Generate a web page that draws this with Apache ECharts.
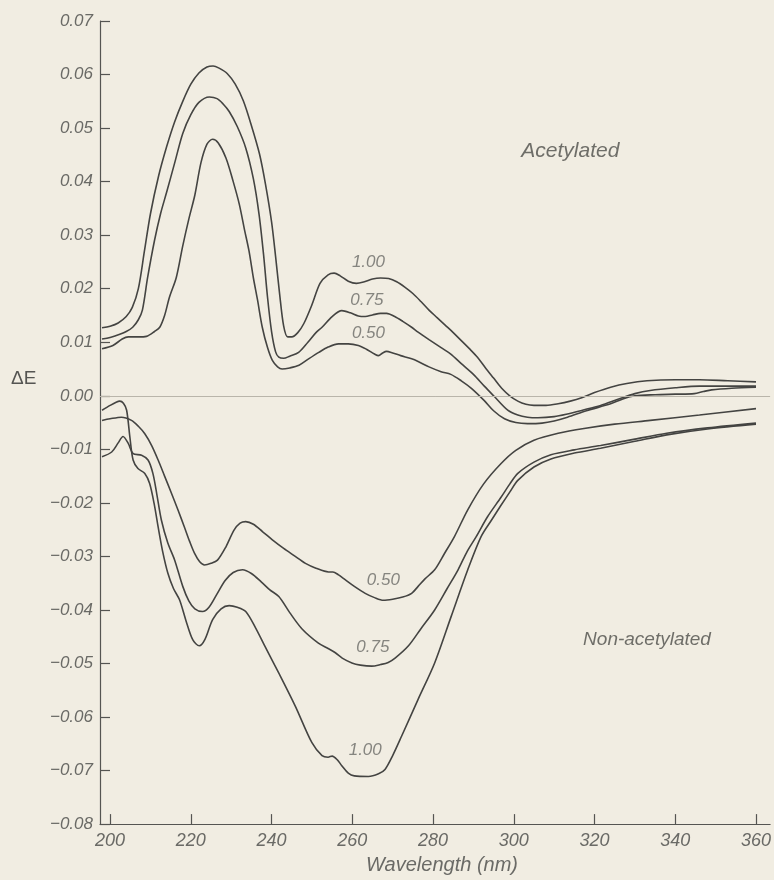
<!DOCTYPE html>
<html>
<head>
<meta charset="utf-8">
<script src="https://cdn.jsdelivr.net/npm/echarts@6/dist/echarts.min.js"></script>
<style>
html,body{margin:0;padding:0;background:#f1ede2;overflow:hidden;}
#chart{width:774px;height:880px;}
</style>
</head>
<body>
<div id="chart"></div>
<script>
// Tick labels
const xTicks = [200, 220, 240, 260, 280, 300, 320, 340, 360];
const yTicks = [-0.08, -0.07, -0.06, -0.05, -0.04, -0.03, -0.02, -0.01, 0, 0.01, 0.02, 0.03, 0.04, 0.05, 0.06, 0.07];

// Acetylated, 1.00
const acet100 = [
[198,0.0127],[200,0.0130],[202,0.0136],[204,0.0148],[205.5,0.0165],[207,0.0200],[208.5,0.0270],[210,0.0340],
[212,0.0410],[214,0.0465],[216,0.0512],[218,0.0550],[220,0.0582],[222,0.0603],[224,0.0614],[225.5,0.0616],
[227,0.0612],[229,0.0602],[231,0.0582],[233,0.0551],[235,0.0505],[237,0.0452],[238.5,0.0395],[240,0.0325],
[241,0.0260],[242,0.0190],[243,0.0130],[244,0.0110],[245,0.0110],[246.5,0.0118],[248,0.0135],[250,0.0170],
[252,0.0210],[254,0.0226],[255.5,0.0229],[257,0.0224],[259,0.0214],[261,0.0210],[263,0.0213],[265,0.0218],
[267,0.0220],[269,0.0219],[271,0.0213],[273,0.0203],[275,0.0191],[277,0.0176],[279,0.0160],[281,0.0146],
[283,0.0132],[285,0.0118],[287,0.0103],[289,0.0088],[291,0.0072],[293,0.0052],[295,0.0033],[297,0.0014],
[299,0.0000],[301,-0.0010],[303,-0.0016],[305,-0.0018],[308,-0.0018],[311,-0.0015],[314,-0.0010],[317,-0.0003],
[320,0.0006],[324,0.0016],[328,0.0023],[333,0.0028],[340,0.0030],[346,0.0030],[353,0.0028],[360,0.0026]
];
// Acetylated, 0.75
const acet075 = [
[198,0.0106],[200,0.0109],[202.4,0.0115],[204,0.0120],[205.6,0.0128],[207,0.0142],[208,0.0160],[209.3,0.0221],
[211,0.0290],[212.5,0.0340],[214,0.0380],[216,0.0435],[218,0.0490],[220,0.0525],[222,0.0548],[224.6,0.0558],
[226.5,0.0555],[228,0.0545],[229.5,0.0531],[231.5,0.0503],[233.6,0.0463],[235.5,0.0405],[236.9,0.0339],
[238,0.0265],[239,0.0184],[240,0.0120],[241,0.0082],[241.8,0.0072],[243,0.0070],[244.5,0.0074],[246.7,0.0081],
[249,0.0100],[251,0.0118],[252.5,0.0128],[255,0.0148],[257.4,0.0159],[259.5,0.0155],[261.5,0.0149],[263.2,0.0148],
[265,0.0151],[267,0.0154],[268.5,0.0154],[270.5,0.0148],[272.5,0.0139],[274.7,0.0128],[276.3,0.0119],[279,0.0105],
[282,0.0090],[284.4,0.0078],[287,0.0060],[290,0.0040],[292.7,0.0018],[295,0.0000],[298.5,-0.0027],[301,-0.0036],
[303.4,-0.0040],[306,-0.0041],[310,-0.0039],[313.3,-0.0034],[317,-0.0027],[321.5,-0.0018],[326,-0.0006],
[330,0.0004],[333.8,0.0010],[340,0.0015],[346,0.0018],[353,0.0018],[360,0.0018]
];
// Acetylated, 0.50
const acet050 = [
[198,0.0088],[200.7,0.0094],[203,0.0106],[204.5,0.0110],[207,0.0110],[209,0.0111],[211,0.0120],[212.3,0.0128],
[213.5,0.0150],[214.7,0.0184],[216.4,0.0221],[218,0.0280],[219.5,0.0330],[221,0.0375],[222.5,0.0435],[224,0.0470],
[225.4,0.0479],[226.8,0.0472],[228.7,0.0444],[230.5,0.0400],[232,0.0358],[233.3,0.0310],[234.4,0.0271],[235.5,0.0220],
[236.5,0.0180],[237.7,0.0128],[239,0.0090],[240.2,0.0066],[241.5,0.0054],[242.6,0.0050],[244.5,0.0052],[246.8,0.0057],
[249,0.0068],[251.7,0.0081],[254,0.0091],[256.6,0.0097],[259,0.0097],[261.5,0.0094],[263.5,0.0087],[265.5,0.0078],
[266.5,0.0075],[267.5,0.0080],[268.5,0.0083],[270,0.0080],[272,0.0075],[274.7,0.0069],[276.3,0.0064],[279,0.0054],
[282,0.0045],[284.4,0.0040],[287,0.0028],[289.5,0.0014],[292.7,-0.0009],[295,-0.0028],[297.7,-0.0043],[300.5,-0.0050],
[303.4,-0.0052],[307,-0.0051],[310,-0.0047],[313.3,-0.0040],[318,-0.0028],[324,-0.0015],[327,-0.0006],[330,0.0000],
[335,0.0002],[340,0.0003],[344.7,0.0004],[347,0.0008],[349,0.0011],[354,0.0014],[360,0.0016]
];
// Non-acetylated, 1.00
const non100 = [
[198,-0.0027],[200,-0.0018],[201.5,-0.0012],[202.4,-0.0010],[203.3,-0.0014],[204.1,-0.0027],[204.9,-0.0077],
[205.7,-0.0120],[206.9,-0.0136],[208.6,-0.0145],[209.8,-0.0164],[211,-0.0205],[211.9,-0.0245],[213,-0.0290],
[214.3,-0.0331],[215.7,-0.0360],[217.2,-0.0381],[218.8,-0.0420],[220.5,-0.0456],[222.1,-0.0467],[223.5,-0.0455],
[225.4,-0.0418],[227.5,-0.0398],[229.5,-0.0392],[231.5,-0.0395],[233.6,-0.0403],[236,-0.0433],[238.5,-0.0470],
[241.8,-0.0518],[245.9,-0.0580],[250,-0.0648],[252.5,-0.0672],[254,-0.0675],[255,-0.0673],[256.3,-0.0680],
[257.4,-0.0691],[259,-0.0705],[260.5,-0.0710],[264,-0.0711],[266.5,-0.0706],[268.1,-0.0698],[270,-0.0672],
[272.2,-0.0636],[276.3,-0.0567],[280.4,-0.0499],[284.5,-0.0412],[288.6,-0.0325],[291.9,-0.0263],[294.5,-0.0232],
[296.8,-0.0205],[299,-0.0180],[301,-0.0158],[305,-0.0133],[309.2,-0.0118],[315,-0.0107],[321.5,-0.0098],
[330,-0.0085],[337.9,-0.0073],[348,-0.0062],[360,-0.0053]
];
// Non-acetylated, 0.75
const non075 = [
[198,-0.0114],[200.4,-0.0105],[202,-0.0088],[203.2,-0.0076],[204.5,-0.0089],[205.7,-0.0108],[207.8,-0.0111],
[209.4,-0.0120],[210.6,-0.0145],[211.6,-0.0185],[212.7,-0.0232],[214.3,-0.0275],[216,-0.0307],[218,-0.0356],
[219.5,-0.0383],[221,-0.0398],[222.9,-0.0403],[224.5,-0.0395],[226.5,-0.0370],[228.5,-0.0345],[230.5,-0.0330],
[232.8,-0.0325],[235,-0.0332],[237.5,-0.0348],[239.5,-0.0362],[241.8,-0.0375],[244.5,-0.0405],[247.5,-0.0435],
[251.6,-0.0462],[254,-0.0472],[255.8,-0.0480],[257.5,-0.0490],[259.9,-0.0499],[262,-0.0503],[264.8,-0.0505],
[267,-0.0502],[268.9,-0.0498],[270.6,-0.0490],[273.8,-0.0468],[277,-0.0435],[280.4,-0.0400],[283.5,-0.0360],
[286.2,-0.0325],[288.5,-0.0290],[290.7,-0.0263],[293.5,-0.0226],[296.8,-0.0190],[299,-0.0165],[301,-0.0145],
[305,-0.0124],[309.2,-0.0110],[315,-0.0101],[321.5,-0.0093],[330,-0.0081],[337.9,-0.0070],[348,-0.0060],[360,-0.0051]
];
// Non-acetylated, 0.50
const non050 = [
[198,-0.0046],[200,-0.0043],[202.8,-0.0040],[205.3,-0.0046],[207,-0.0057],[208.6,-0.0071],[210.3,-0.0093],
[211.9,-0.0120],[213.5,-0.0150],[215.2,-0.0182],[216.8,-0.0213],[218.4,-0.0245],[219.7,-0.0272],[220.9,-0.0294],
[222.2,-0.0310],[223.4,-0.0316],[225,-0.0313],[226.6,-0.0307],[228.7,-0.0282],[230.7,-0.0251],[232.2,-0.0238],
[233.6,-0.0235],[235.5,-0.0240],[237.8,-0.0254],[240.2,-0.0269],[243,-0.0285],[245.5,-0.0298],[248.4,-0.0313],
[251,-0.0322],[254.1,-0.0329],[255.2,-0.0329],[256.5,-0.0334],[258.3,-0.0344],[260.5,-0.0356],[263.2,-0.0369],
[265.5,-0.0377],[267.7,-0.0382],[270,-0.0380],[272.5,-0.0376],[274.7,-0.0369],[276.3,-0.0356],[278,-0.0342],
[280.4,-0.0325],[282.8,-0.0295],[285.3,-0.0263],[288.6,-0.0213],[292.5,-0.0165],[296.8,-0.0127],[300.5,-0.0102],
[305,-0.0083],[311,-0.0070],[317.4,-0.0061],[325,-0.0053],[333.8,-0.0046],[346,-0.0036],[360,-0.0024]
];

// Curve annotations (text and position in data units)
const noteText = ['1.00', '0.75', '0.50', '0.50', '0.75', '1.00', 'Acetylated', 'Non-acetylated'];
const noteX = [264, 263.6, 264, 267.7, 265.1, 263.2, 314, 333];
const noteY = [0.0249, 0.0178, 0.0117, -0.0345, -0.0469, -0.0662, 0.0457, -0.0455];
const noteSize = [17, 17, 17, 17, 17, 17, 21, 19];

const FONT = '"Liberation Sans", "DejaVu Sans", sans-serif';
const LINE = '#444442';
const TEXT = '#6a6a66';

const chart = echarts.init(document.getElementById('chart'), null, {renderer: 'canvas', width: 774, height: 880});

function curve(name, data) {
  return {
    name: name, type: 'line', data: data, showSymbol: false, symbol: 'none',
    smooth: 0.3,
    lineStyle: {color: LINE, width: 1.6}, silent: true, z: 3
  };
}

const notes = noteText.map((t, i) => ({
  value: [noteX[i], noteY[i]], name: t,
  label: {show: true, position: 'inside', align: 'center', verticalAlign: 'middle', formatter: t, fontSize: noteSize[i],
          fontStyle: 'italic', fontFamily: FONT, color: i >= 6 ? '#4e4e4a' : TEXT}
}));

const series = [
  curve('acet100', acet100), curve('acet075', acet075), curve('acet050', acet050),
  curve('non100', non100), curve('non075', non075), curve('non050', non050),
  {type: 'scatter', data: notes, symbolSize: 2, itemStyle: {color: 'rgba(0,0,0,0)'}, silent: true, z: 5}
];
series[0].markLine = {
  silent: true, symbol: 'none', label: {show: false},
  lineStyle: {color: '#b9b5aa', width: 1, type: 'solid'},
  data: [{yAxis: 0}]
};

chart.setOption({
  backgroundColor: '#f1ede2',
  animation: false,
  grid: {left: 100, right: 0, top: 21, bottom: 49, containLabel: false},
  xAxis: {
    type: 'value', min: 197.5, max: 363.5,
    name: 'Wavelength (nm)', nameLocation: 'middle', nameGap: 30,
    nameTextStyle: {fontSize: 20, fontStyle: 'italic', fontFamily: FONT, color: TEXT, padding: [0, 0, 0, 14]},
    axisLine: {show: true, onZero: false, lineStyle: {color: '#555552', width: 1.2}},
    axisTick: {show: true, inside: true, length: 10, lineStyle: {color: '#555552', width: 1.2}, customValues: xTicks},
    axisLabel: {show: true, margin: 8, fontSize: 18, fontStyle: 'italic', fontFamily: FONT, color: TEXT,
                customValues: xTicks, formatter: v => String(Math.round(v))},
    splitLine: {show: false}
  },
  yAxis: {
    type: 'value', min: -0.08, max: 0.07,
    axisLine: {show: true, onZero: false, lineStyle: {color: '#555552', width: 1.2}},
    axisTick: {show: true, inside: true, length: 10, lineStyle: {color: '#555552', width: 1.2}, customValues: yTicks},
    axisLabel: {show: true, margin: 7, fontSize: 17, fontStyle: 'italic', fontFamily: FONT, color: TEXT,
                customValues: yTicks,
                formatter: v => {
                  const r = Math.round(v * 100) / 100;
                  if (Math.abs(r) < 1e-9) return '0.00';
                  return (r < 0 ? '\u2212' : '') + Math.abs(r).toFixed(2);
                }},
    splitLine: {show: false}
  },
  graphic: [{
    type: 'text', left: 11, top: 369,
    style: {text: '\u0394E', fontSize: 19, fontFamily: FONT, fill: '#555552'}
  }],
  series: series
});
</script>
</body>
</html>
